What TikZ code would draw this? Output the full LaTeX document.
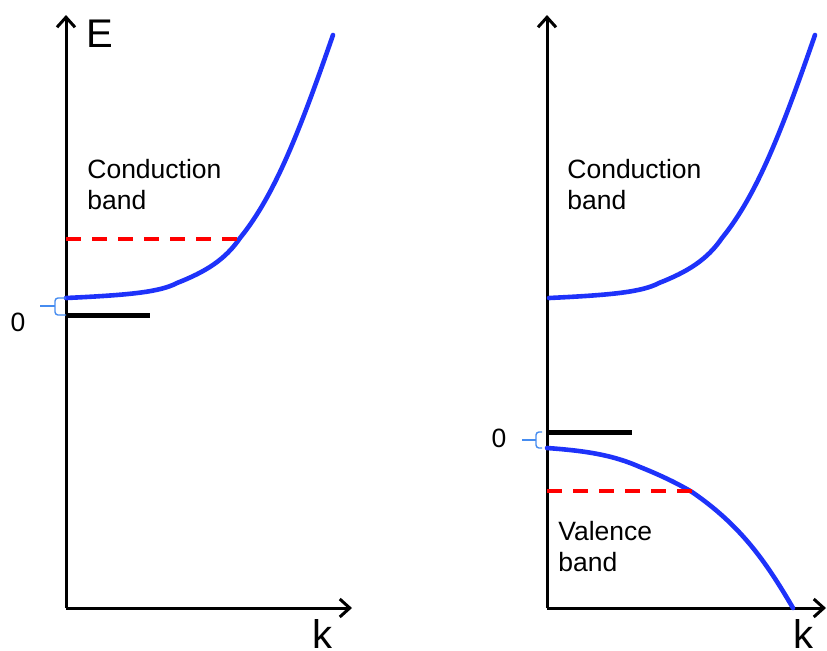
\documentclass[tikz,border=0pt]{standalone}
\usepackage{fontspec}
\setmainfont{Liberation Sans}
\usetikzlibrary{arrows.meta}
\definecolor{bandblue}{RGB}{30,50,250}
\definecolor{braceblue}{RGB}{70,140,240}
\tikzset{
  axis/.style={line width=1.5pt, -{Straight Barb[length=5pt,width=9pt,line width=1.5pt]}},
  band/.style={line width=2.3pt, bandblue, line cap=round},
  fermi/.style={line width=2pt, red, dash pattern=on 7.5pt off 5.5pt},
  zero/.style={line width=2.5pt, black},
  gapbrace/.style={line width=0.7pt, braceblue, rounded corners=1.5pt},
  lbl/.style={inner sep=0pt, font=\fontsize{13.25}{15.5}\selectfont},
  big/.style={inner sep=0pt, font=\fontsize{20}{22}\selectfont}
}
\begin{document}
\begin{tikzpicture}[x=0.5pt,y=-0.5pt]
  \useasboundingbox (0,0) rectangle (827,650);
  % left panel: n-type
  \coordinate (o1) at (66,608);
  \coordinate (e1) at (66,15);
  \coordinate (k1) at (352,608);
  \draw[axis] (o1) -- (e1);
  \draw[axis] (o1) -- (k1);
  \node[big] (E) at (100,34) {E};
  \node[big] (kl) at (323,634) {k};
  \node[lbl, align=left, anchor=north west] (cb1) at (87,159) {Conduction\\band};
  \coordinate (cbmin1) at (66,298);
  \coordinate (ef1) at (240,239);
  \draw[band] (cbmin1) .. controls (130,295) and (160,292) .. (177,283)
    .. controls (205,272) and (225,260) .. (240,238)
    .. controls (275,195) and (300,130) .. (333,35);
  \draw[fermi] (66,239) -- (ef1);
  \coordinate (z1) at (66,315);
  \coordinate (z1e) at (150,315);
  \draw[zero] (z1) -- (z1e);
  \node[lbl] (zero1) at (18,322) {0};
  \draw[gapbrace] (66,298) -- (55,298) -- (55,315) -- (66,315);
  \draw[gapbrace] (55,306) -- (40,306);
  % right panel: p-type
  \coordinate (o2) at (547,608);
  \coordinate (e2) at (547,15);
  \coordinate (k2) at (826,608);
  \draw[axis] (o2) -- (e2);
  \draw[axis] (o2) -- (k2);
  \node[big] (kr) at (803,634) {k};
  \node[lbl, align=left, anchor=north west] (cb2) at (567,159) {Conduction\\band};
  \draw[band] (549,298) .. controls (612,295) and (642,292) .. (659,283)
    .. controls (687,272) and (707,260) .. (722,238)
    .. controls (757,195) and (782,130) .. (815,35);
  \coordinate (z2) at (547,432);
  \coordinate (z2e) at (632,432);
  \draw[zero] (z2) -- (z2e);
  \node[lbl] (zero2) at (499,438) {0};
  \draw[gapbrace] (542,432) -- (536,432) -- (536,448) -- (542,448);
  \draw[gapbrace] (536,440) -- (522,440);
  \coordinate (vbmax) at (547,448);
  \coordinate (ef2) at (692,491);
  \draw[band] (vbmax) .. controls (590,451) and (615,456) .. (640,467)
    .. controls (665,477) and (680,485) .. (692,492)
    .. controls (740,525) and (765,560) .. (793,608);
  \draw[fermi] (547,491) -- (ef2);
  \node[lbl, align=left, anchor=north west] (vb) at (558,521) {Valence\\band};
\end{tikzpicture}
\end{document}
